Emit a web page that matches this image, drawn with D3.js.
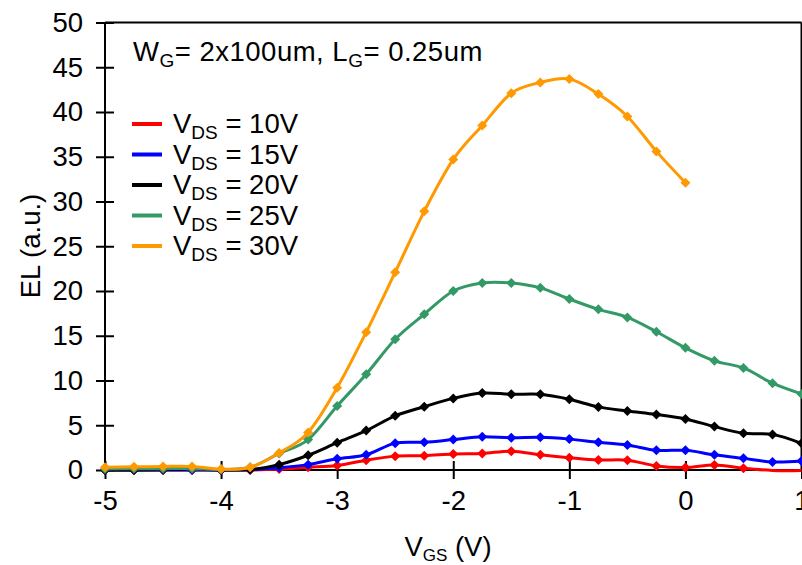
<!DOCTYPE html>
<html><head><meta charset="utf-8">
<script src="https://cdn.jsdelivr.net/npm/d3@7"></script>
<style>
html,body{margin:0;padding:0;background:#fff;}
svg{display:block;font-family:"Liberation Sans",Arial,sans-serif;}
</style></head>
<body><svg id="c" width="802" height="565"></svg>
<script>
const vgs = [-5,-4.75,-4.5,-4.25,-4,-3.75,-3.5,-3.25,-3,-2.75,-2.5,-2.25,-2,-1.75,-1.5,-1.25,-1,-0.75,-0.5,-0.25,0,0.25,0.5,0.75,1];
const el10 = [0,0,0,0,0,0,0.1,0.3,0.5,1.1,1.55,1.6,1.8,1.85,2.1,1.7,1.38,1.12,1.1,0.45,0.27,0.56,0.19,-0.05,-0.05];
const el15 = [0,0,0,0,0,0.05,0.25,0.6,1.25,1.7,3.0,3.1,3.4,3.72,3.6,3.65,3.45,3.1,2.8,2.2,2.2,1.7,1.3,0.9,1.0];
const el20 = [0,0,0.05,0.1,0,0.05,0.6,1.65,3.05,4.4,6.05,7.07,8.0,8.6,8.46,8.46,7.9,7.05,6.6,6.2,5.7,4.85,4.1,3.98,2.98];
const el25 = [0.1,0.15,0.15,0.15,0.05,0.3,1.85,3.4,7.15,10.7,14.6,17.4,20.0,20.9,20.9,20.35,19.1,17.95,17.05,15.45,13.65,12.2,11.4,9.7,8.5];
const el30 = [0.3,0.35,0.4,0.4,0.1,0.3,1.9,4.2,9.2,15.4,22.1,28.9,34.7,38.5,42.1,43.3,43.7,42.0,39.5,35.6,32.1];
const seriesNames = ["10V","15V","20V","25V","30V"];
const seriesColors = ["#ff0000","#0000ff","#000000","#339966","#ff9900"];
const seriesData = [el10,el15,el20,el25,el30];
const xTicks = [-5,-4,-3,-2,-1,0,1];
const yTicks = [0,5,10,15,20,25,30,35,40,45,50];

const svg = d3.select("#c");
const L = 105, R = 801.5, T = 22.5, B = 470;
const x = d3.scaleLinear().domain([-5,1]).range([L,R]);
const y = d3.scaleLinear().domain([0,50]).range([B,T]);
const FS = 27.5, SUB = 19;

// frame
svg.append("line").attr("x1",L).attr("x2",R).attr("y1",T).attr("y2",T).attr("stroke","#000").attr("stroke-width",2);
svg.append("line").attr("x1",R).attr("x2",R).attr("y1",T).attr("y2",B).attr("stroke","#000").attr("stroke-width",2);

const gx = svg.append("g").attr("transform",`translate(0,${B})`)
  .call(d3.axisBottom(x).tickValues(xTicks).tickSize(9).tickPadding(11).tickFormat(d=>String(d)));
gx.selectAll(".tick line").attr("y1",-9).attr("stroke-width",2);
gx.select(".domain").attr("stroke-width",2).attr("d",`M${L},0H${R}`);
gx.selectAll("text").attr("font-size",FS).attr("font-family","Liberation Sans, Arial").attr("fill","#000");

const gy = svg.append("g").attr("transform",`translate(${L},0)`)
  .call(d3.axisLeft(y).tickValues(yTicks).tickSize(9).tickPadding(13).tickFormat(d=>String(d)));
gy.selectAll(".tick line").attr("x1",9).attr("stroke-width",2);
gy.select(".domain").attr("stroke-width",2).attr("d",`M0,${B}V${T}`);
gy.selectAll("text").attr("font-size",FS).attr("font-family","Liberation Sans, Arial").attr("fill","#000");

const diamond = {draw(ctx,size){const r=Math.sqrt(size/2);ctx.moveTo(0,-r);ctx.lineTo(r,0);ctx.lineTo(0,r);ctx.lineTo(-r,0);ctx.closePath();}};
const line = d3.line().x(d=>x(d[0])).y(d=>y(d[1])).curve(d3.curveCatmullRom.alpha(0));

seriesData.forEach((vals,i)=>{
  const pts = vals.map((v,j)=>[vgs[j],v]);
  svg.append("path").attr("d",line(pts)).attr("fill","none").attr("stroke",seriesColors[i]).attr("stroke-width",3).attr("stroke-linejoin","round");
  svg.append("g").selectAll("path").data(pts.filter(p=>p[1]>=0)).join("path")
    .attr("transform",d=>`translate(${x(d[0])},${y(d[1])})`)
    .attr("d",d3.symbol().type(diamond).size(50)).attr("fill",seriesColors[i]);
});

// legend
const ly0 = 124, ldy = 30.5;
seriesNames.forEach((n,i)=>{
  const yy = ly0 + i*ldy;
  svg.append("line").attr("x1",132).attr("x2",162).attr("y1",yy).attr("y2",yy).attr("stroke",seriesColors[i]).attr("stroke-width",4);
  const t = svg.append("text").attr("x",173).attr("y",yy+9).attr("font-size",FS).attr("fill","#000");
  t.append("tspan").text("V");
  t.append("tspan").attr("font-size",SUB).attr("dy",6).text("DS");
  t.append("tspan").attr("dy",-6).text(" = "+n);
});

// annotation
const a = svg.append("text").attr("x",133).attr("y",61).attr("font-size",FS).attr("letter-spacing",0.5).attr("fill","#000");
a.append("tspan").text("W");
a.append("tspan").attr("font-size",SUB).attr("dy",6).text("G");
a.append("tspan").attr("dy",-6).text("= 2x100um,  L");
a.append("tspan").attr("font-size",SUB).attr("dy",6).text("G");
a.append("tspan").attr("dy",-6).text("= 0.25um");

// axis titles
svg.append("text").attr("transform","translate(40,246) rotate(-90)").attr("text-anchor","middle").attr("font-size",FS).attr("fill","#000").text("EL (a.u.)");
const xt = svg.append("text").attr("x",448).attr("y",556).attr("text-anchor","middle").attr("font-size",FS).attr("fill","#000");
xt.append("tspan").text("V");
xt.append("tspan").attr("font-size",17).attr("dy",5).text("GS");
xt.append("tspan").attr("dy",-5).text(" (V)");
</script></body></html>
